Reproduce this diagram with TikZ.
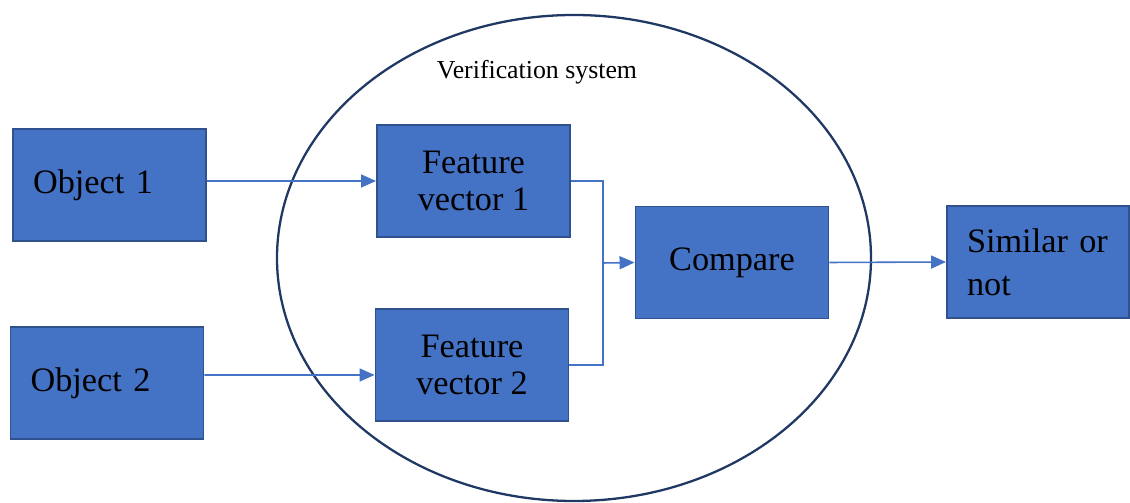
\documentclass[tikz,border=0pt]{standalone}
\usepackage{fontspec}
\setmainfont{Liberation Serif}
\usepackage{xcolor}
\usetikzlibrary{arrows.meta}
\definecolor{boxblue}{HTML}{4472C4}
\definecolor{boxedge}{HTML}{2F528F}
\definecolor{ringblue}{HTML}{203864}

\begin{document}
\begin{tikzpicture}[x=0.02cm, y=0.02cm, every node/.style={font=\fontsize{19.5}{21.5}\selectfont}]
  \tikzstyle{bnode}=[rectangle,draw=boxedge,line width=1.1pt,fill=boxblue,minimum width=3.86cm,minimum height=2.24cm,inner sep=2pt,align=center]
  \tikzstyle{lnode}=[bnode,align=left,text width=3.06cm]
  \tikzstyle{link}=[draw=boxblue,line width=0.9pt]
  \tikzstyle{linkarr}=[link,-{Triangle[length=3mm,width=2.6mm]}]
  \useasboundingbox (0,0) rectangle (1130,503);
  \draw[ringblue,line width=1.3pt] (574,245) ellipse [x radius=297, y radius=243];
  \node[font=\fontsize{14.7}{17}\selectfont] (title) at (537,431) {Verification system};
  \node[lnode] (obj1) at (109.5,318) {Object 1};
  \node[lnode] (obj2) at (107,120) {Object 2};
  \node[bnode] (fv1) at (473.5,322) {Feature\\vector 1};
  \node[bnode] (fv2) at (472,138) {Feature\\vector 2};
  \node[bnode] (cmp) at (732,240.5) {Compare};
  \node[lnode,minimum width=3.64cm,text width=2.84cm,font=\fontsize{19.5}{24.5}\selectfont] (sim) at (1038,241) {Similar or\\not};
  \coordinate (jn) at (603,240);
  \draw[linkarr] ([yshift=0.08cm]obj1.east) -- (fv1.west);
  \draw[linkarr] ([yshift=0.16cm]obj2.east) -- ([yshift=-0.2cm]fv2.west);
  \draw[link] (fv1.east) -| (jn) |- (fv2.east);
  \draw[linkarr] (jn) -- (cmp.west);
  \draw[linkarr] (cmp.east) -- (sim.west);
\end{tikzpicture}
\end{document}
